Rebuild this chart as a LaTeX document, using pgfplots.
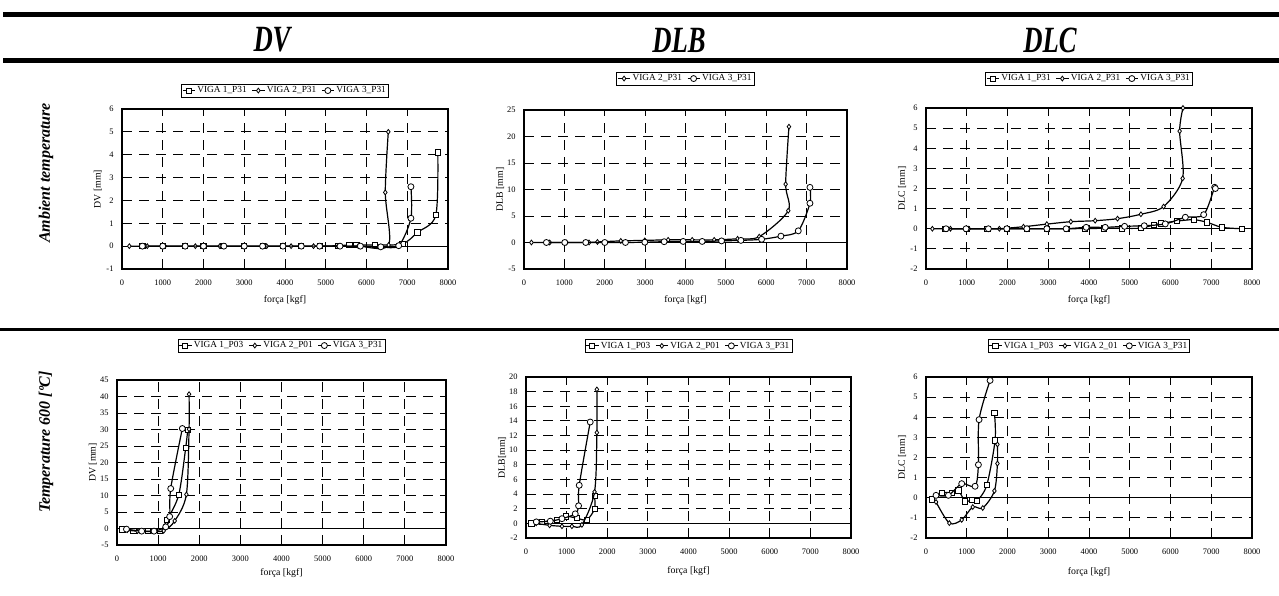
\documentclass[border=0pt]{standalone}
\usepackage{fontspec}
\setmainfont{Liberation Serif}
\usepackage{pgfplots}
\pgfplotsset{compat=1.18}

\pgfplotsset{
  panel/.style={
    scale only axis,
    clip mode=individual,
    xmin=0, xmax=8000,
    xtick={0,1000,...,8000},
    grid=major,
    major grid style={black, line width=0.9pt, dash pattern=on 10pt off 7pt},
    axis line style={black, line width=1.1pt},
    tick style={draw=none},
    /pgf/number format/assume math mode=true,
    /pgf/number format/1000 sep={},
    tick label style={font=\fontsize{8.4}{9}\selectfont},
    xticklabel style={yshift=-7pt},
    yticklabel style={xshift=-5pt},
    xlabel={força [kgf]},
    every axis x label/.style={at={(axis description cs:0.5,0)}, anchor=center, yshift=-31pt, font=\fontsize{9.8}{10}\selectfont},
    every axis y label/.style={at={(axis description cs:0,0.5)}, anchor=center, xshift=-24pt, rotate=90, font=\fontsize{9.8}{10}\selectfont},
    legend columns=-1,
    legend style={at={(0.5,1)}, anchor=south, yshift=12pt, draw=black, line width=0.8pt,
      font=\fontsize{9.3}{9.3}\selectfont, inner sep=0.6pt, outer sep=0pt,
      /tikz/every even column/.append style={column sep=3pt}},
    legend image code/.code={\draw[mark repeat=2,mark phase=2,#1] plot coordinates {(0pt,0pt) (6pt,0pt) (12pt,0pt)};},
  },
  sq/.style={black, line width=1.2pt, smooth, mark=square*, mark size=2.6pt, mark options={fill=white, solid, line width=0.8pt}},
  di/.style={black, line width=1.2pt, smooth, mark=diamond*, mark size=2.4pt, mark options={fill=white, solid, line width=0.8pt}},
  ci/.style={black, line width=1.2pt, smooth, mark=*, mark size=3pt, mark options={fill=white, solid, line width=0.8pt}},
}

\begin{document}
\begin{tikzpicture}[x=1pt,y=1pt]
\path[use as bounding box] (0,0) rectangle (1279,596);

% header rules
\fill[black] (3,579) rectangle (1279,584);
\fill[black] (3,533) rectangle (1279,538);
\fill[black] (0,264.5) rectangle (1279,267.5);

% column headers
\node at (272,556) {\scalebox{0.72}[1]{\fontsize{37}{37}\selectfont\bfseries\itshape DV}};
\node at (679,556) {\scalebox{0.72}[1]{\fontsize{37}{37}\selectfont\bfseries\itshape DLB}};
\node at (1050,556) {\scalebox{0.72}[1]{\fontsize{37}{37}\selectfont\bfseries\itshape DLC}};

% row labels
\node[rotate=90] at (46,423) {\fontsize{16}{16}\selectfont\bfseries\itshape Ambient temperature};
\node[rotate=90] at (46,154) {\fontsize{16}{16}\selectfont\bfseries\itshape Temperature 600 [ºC]};

% ---------------- Panel 1: DV ambient
\begin{axis}[panel, at={(122pt,327pt)}, anchor=south west, width=326pt, height=160pt,
  ymin=-1, ymax=6, ytick={-1,0,...,6}, ylabel={DV [mm]}]
\draw[black, line width=0.6pt] (axis cs:0,0) -- (axis cs:8000,0);
\addplot[sq] coordinates {(500,0) (1000,0) (1550,0) (2000,0) (2480,0) (3000,0) (3450,0) (3950,0) (4400,0) (4850,0) (5300,0.02) (5580,0.05) (5750,0.05) (6200,0.05) (6880,0.1) (7250,0.6) (7700,1.35) (7750,4.1)};
\addlegendentry{VIGA 1\_P31}
\addplot[di] coordinates {(180,0) (620,0) (1050,0) (1550,0) (1800,0) (2400,0) (3000,0) (3550,0) (4150,0) (4700,0) (5300,0) (5800,0) (6543,0.05) (6461,2.35) (6535,5.0)};
\addlegendentry{VIGA 2\_P31}
\addplot[ci] coordinates {(500,0) (1000,0) (1550,0) (2000,0) (2500,0) (3000,0) (3450,0) (3950,0) (4400,0) (4850,0) (5350,0) (5850,0) (6350,-0.03) (6790,0.02) (7090,1.22) (7090,2.6)};
\addlegendentry{VIGA 3\_P31}
\end{axis}

% ---------------- Panel 2: DLB ambient
\begin{axis}[panel, at={(524pt,327pt)}, anchor=south west, width=323pt, height=159pt,
  ymin=-5, ymax=25, ytick={-5,0,...,25}, ylabel={DLB [mm]}, legend style={yshift=13pt}]
\draw[black, line width=0.6pt] (axis cs:0,0) -- (axis cs:8000,0);
\addplot[di] coordinates {(183,0) (637,0) (1050,0) (1611,0) (1819,0.1) (2397,0.3) (2992,0.4) (3570,0.5) (4165,0.5) (4710,0.5) (5290,0.7) (5826,1.1) (6545,6.0) (6480,11.0) (6562,21.85)};
\addlegendentry{VIGA 2\_P31}
\addplot[ci] coordinates {(555,0) (1009,0) (1529,0) (2000,0) (2513,0) (2992,0.05) (3471,0.15) (3942,0.2) (4413,0.2) (4893,0.3) (5372,0.4) (5885,0.6) (6363,1.2) (6793,2.2) (7082,7.4) (7082,10.4)};
\addlegendentry{VIGA 3\_P31}
\end{axis}

% ---------------- Panel 3: DLC ambient
\begin{axis}[panel, at={(926pt,327pt)}, anchor=south west, width=326pt, height=161pt,
  ymin=-2, ymax=6, ytick={-2,-1,...,6}, ylabel={DLC [mm]}, legend style={yshift=11pt}]
\draw[black, line width=0.6pt] (axis cs:0,0) -- (axis cs:8000,0);
\addplot[sq] coordinates {(467,0) (1000,0) (1506,0) (1982,0) (2473,0) (2965,0) (3456,0) (3906,0.01) (4356,0.02) (4807,0.02) (5274,0.03) (5584,0.19) (5766,0.27) (6158,0.38) (6566,0.45) (6895,0.32) (7265,0.07) (7756,0.0)};
\addlegendentry{VIGA 1\_P31}
\addplot[di] coordinates {(156,0) (600,0) (1050,0) (1531,0) (1800,0) (2391,0.1) (2965,0.23) (3554,0.35) (4151,0.4) (4700,0.5) (5274,0.72) (5830,1.1) (6298,2.5) (6224,4.85) (6306,6.0)};
\addlegendentry{VIGA 2\_P31}
\addplot[ci] coordinates {(491,0) (983,0) (1531,0) (1982,0) (2473,0) (2965,0) (3440,0) (3931,0.07) (4398,0.07) (4873,0.12) (5356,0.15) (5872,0.24) (6364,0.57) (6814,0.7) (7084,2.06) (7101,2.0)};
\addlegendentry{VIGA 3\_P31}
\end{axis}

% ---------------- Panel 4: DV 600
\begin{axis}[panel, at={(117pt,51pt)}, anchor=south west, width=329pt, height=165pt,
  ymin=-5, ymax=45, ytick={-5,0,...,45}, ylabel={DV [mm]}, legend style={yshift=16pt},
  every axis x label/.append style={yshift=3pt}]
\draw[black, line width=0.6pt] (axis cs:0,0) -- (axis cs:8000,0);
\addplot[sq] coordinates {(130,-0.3) (400,-0.7) (750,-0.7) (1050,-0.7) (1217,2.6) (1500,10.15) (1670,24.4) (1720,30)};
\addlegendentry{VIGA 1\_P03}
\addplot[di] coordinates {(250,-0.5) (500,-0.8) (850,-0.8) (1135,-0.7) (1403,2.3) (1687,10.3) (1752,30.1) (1752,40.7)};
\addlegendentry{VIGA 2\_P01}
\addplot[ci] coordinates {(230,-0.2) (600,-0.8) (900,-0.8) (1184,0.5) (1281,3.6) (1306,12.1) (1589,30.3)};
\addlegendentry{VIGA 3\_P31}
\end{axis}

% ---------------- Panel 5: DLB 600
\begin{axis}[panel, at={(526pt,58pt)}, anchor=south west, width=325pt, height=161pt,
  ymin=-2, ymax=20, ytick={-2,0,...,20}, ylabel={DLB[mm]}, legend style={yshift=12.7pt},
  every axis x label/.append style={yshift=-2pt}]
\draw[black, line width=0.6pt] (axis cs:0,0) -- (axis cs:8000,0);
\addplot[sq] coordinates {(131,0) (393,0.2) (762,0.5) (991,0.96) (1253,0.7) (1500,0.5) (1687,2.0) (1687,3.8)};
\addlegendentry{VIGA 1\_P03}
\addplot[di] coordinates {(250,0) (581,-0.27) (885,-0.4) (1130,-0.4) (1376,-0.2) (1687,4.3) (1745,12.4) (1745,18.3)};
\addlegendentry{VIGA 2\_P01}
\addplot[ci] coordinates {(254,0.2) (598,0.3) (885,0.64) (1212,1.3) (1294,2.4) (1310,5.2) (1581,13.85)};
\addlegendentry{VIGA 3\_P31}
\end{axis}

% ---------------- Panel 6: DLC 600
\begin{axis}[panel, at={(926pt,58pt)}, anchor=south west, width=326pt, height=161pt,
  ymin=-2, ymax=6, ytick={-2,-1,...,6}, ylabel={DLC [mm]}, legend style={yshift=12.7pt},
  every axis x label/.append style={yshift=-3pt}]
\draw[black, line width=0.6pt] (axis cs:0,0) -- (axis cs:8000,0);
\addplot[sq] coordinates {(139,-0.08) (385,0.25) (631,0.25) (794,0.37) (958,-0.18) (1122,-0.1) (1245,-0.16) (1490,0.62) (1695,2.85) (1679,4.2)};
\addlegendentry{VIGA 1\_P03}
\addplot[di] coordinates {(246,-0.21) (573,-1.26) (876,-1.1) (1147,-0.46) (1392,-0.51) (1679,0.34) (1753,1.7) (1753,2.65)};
\addlegendentry{VIGA 2\_01}
\addplot[ci] coordinates {(246,0.12) (549,0.12) (876,0.7) (1204,0.57) (1286,1.64) (1302,3.88) (1572,5.83)};
\addlegendentry{VIGA 3\_P31}
\end{axis}
\end{tikzpicture}
\end{document}
